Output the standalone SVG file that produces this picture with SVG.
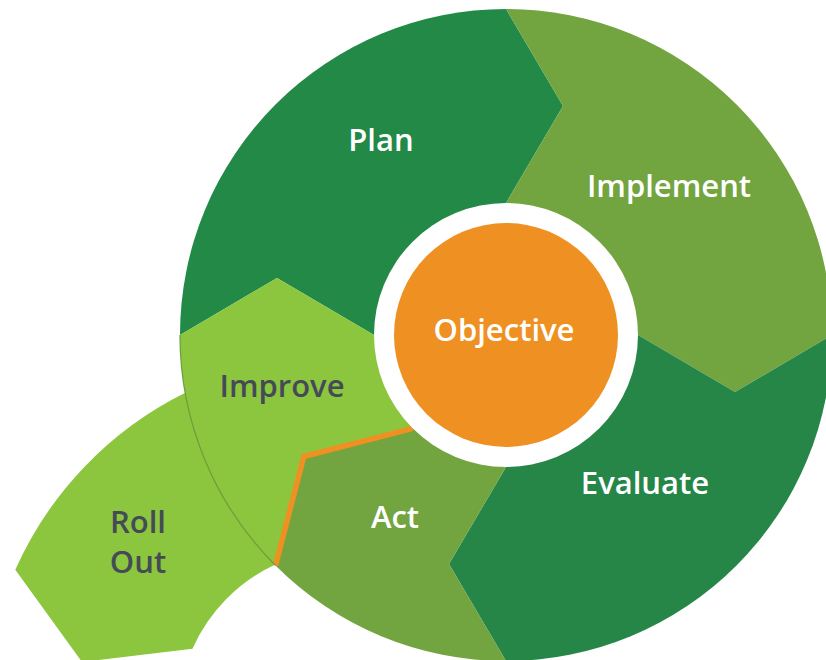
<svg xmlns="http://www.w3.org/2000/svg" width="826" height="660" viewBox="0 0 826 660">
  <style>
    .lbl { font-family: "Open Sans", "Liberation Sans", sans-serif; font-weight: 600; font-size: 31px; text-anchor: middle; }
    .w { fill: #ffffff; }
    .d { fill: #444b56; }
    .dark { fill: #228946; }
    .dark2 { fill: #258647; }
    .olive { fill: #72a43f; }
    .lime { fill: #8cc63f; }
  </style>
  <defs>
    <clipPath id="ring">
      <circle cx="506" cy="335" r="326"/>
    </clipPath>
  </defs>
  <rect width="826" height="660" fill="#ffffff"/>

  <g id="node-rollout">
    <path class="lime" d="M185.3 392.7 A362 362 0 0 0 15.3 569.8 L82 662 L192.5 648.7 A168 168 0 0 1 274.8 564.8 A326 326 0 0 0 185.3 392.7 Z"/>
    <text class="lbl d" x="138" y="533">Roll</text>
    <text class="lbl d" x="138" y="573">Out</text>
  </g>

  <g clip-path="url(#ring)">
    <g id="node-plan">
      <polygon class="dark" points="506,335 374,335 277,278 180,335 -94,335 -94,-265 506,-265 506,9 563,106 506,203"/>
    </g>
    <g id="node-implement">
      <polygon class="olive" points="506,335 506,203 563,106 506,9 506,-265 1106,-265 1106,335 832,335 735,392 638,335"/>
    </g>
    <g id="node-evaluate">
      <polygon class="dark2" points="506,335 638,335 735,392 832,335 1106,335 1106,935 506,935 506,661 449,564 506,467"/>
    </g>
    <g id="node-act">
      <polygon class="olive" points="506,335 506,467 449,564 506,661 506,935 81.7,759.3 275.5,565.5 303.8,456.6 412.7,428.3"/>
    </g>
    <g id="node-improve">
      <polygon class="lime" points="506,335 412.7,428.3 303.8,456.6 275.5,565.5 81.7,759.3 -94,335 180,335 277,278 374,335"/>
    </g>
    <g id="connectors">
      <polyline points="412.7,428.3 303.8,456.6 275.5,565.5" fill="none" stroke="#ef9122" stroke-width="5.5" stroke-linejoin="miter"/>
    </g>
  </g>
  <path d="M180 335 A326 326 0 0 0 275.5 565.5" fill="none" stroke="#6fa03a" stroke-width="1.3"/>

  <g id="node-objective">
    <circle cx="506" cy="335" r="132" fill="#ffffff"/>
    <circle cx="506" cy="335" r="112" fill="#ef9122"/>
    <text class="lbl w" x="504" y="341">Objective</text>
  </g>

  <text class="lbl w" x="381" y="151">Plan</text>
  <text class="lbl w" x="669" y="197">Implement</text>
  <text class="lbl w" x="645" y="494">Evaluate</text>
  <text class="lbl w" x="395" y="528">Act</text>
  <text class="lbl d" x="282" y="397">Improve</text>
</svg>
